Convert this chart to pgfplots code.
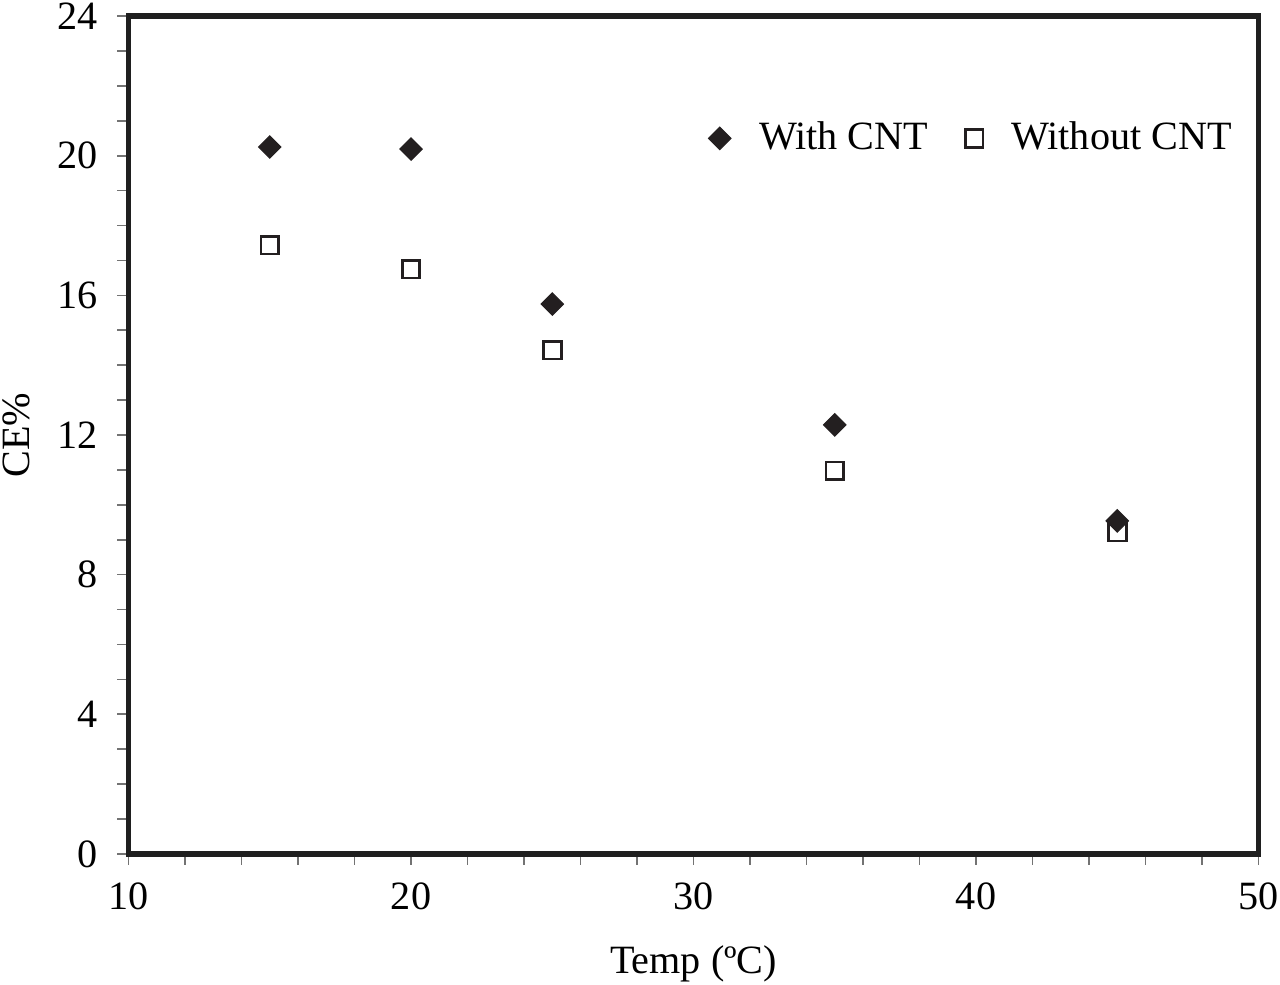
\documentclass[border=0pt]{standalone}
\usepackage{pgfplots}
\pgfplotsset{compat=1.18}
\usepackage{fontspec}
\setmainfont{Liberation Serif}
\definecolor{mk}{HTML}{231F20}
\begin{document}
\fontsize{14.5}{17}\selectfont
\begin{tikzpicture}
\begin{axis}[
  width=408pt, height=302.5pt, scale only axis,
  xmin=10, xmax=50, ymin=0, ymax=24,
  xtick={10,20,30,40,50}, ytick={0,4,8,12,16,20,24},
  minor x tick num=4, minor y tick num=3,
  tick align=outside, xtick pos=bottom, ytick pos=left,
  major tick length=4pt, minor tick length=4pt,
  tick style={black!55, line width=0.6pt},
  axis line style={line width=2pt, color=black!88},
  /pgf/number format/assume math mode=true,
  ticklabel style={font=\fontsize{14.5}{17}\selectfont},
  xticklabel style={yshift=-1.3pt, inner xsep=0.5pt},
  yticklabel style={xshift=-2pt, inner ysep=1pt},
  xlabel={Temp (ºC)}, ylabel={CE\%},
  xlabel style={inner sep=1pt, yshift=-7pt},
  ylabel style={inner sep=1pt, yshift=4pt},
  legend columns=2,
  legend style={draw=none, fill=none, at={(0.989,0.854)}, anchor=east,
    font=\fontsize{14.5}{17}\selectfont,
    /tikz/every odd column/.style={column sep=8.2pt},
    /tikz/every even column/.style={column sep=11.4pt}},
  legend cell align=left,
]
\addplot[only marks, mark=square*, mark size=2.85pt, mark options={rotate=45}, draw=mk, fill=mk] coordinates {
 (15,20.25) (20,20.19) (25,15.75) (35,12.29) (45,9.54)};
\addlegendentry{With CNT}
\addplot[only marks, mark=square, mark size=3.2pt, draw=mk, line width=1pt] coordinates {
 (15,17.44) (20,16.75) (25,14.43) (35,10.97) (45,9.22)};
\addlegendentry{Without CNT}
\end{axis}
\end{tikzpicture}
\end{document}
